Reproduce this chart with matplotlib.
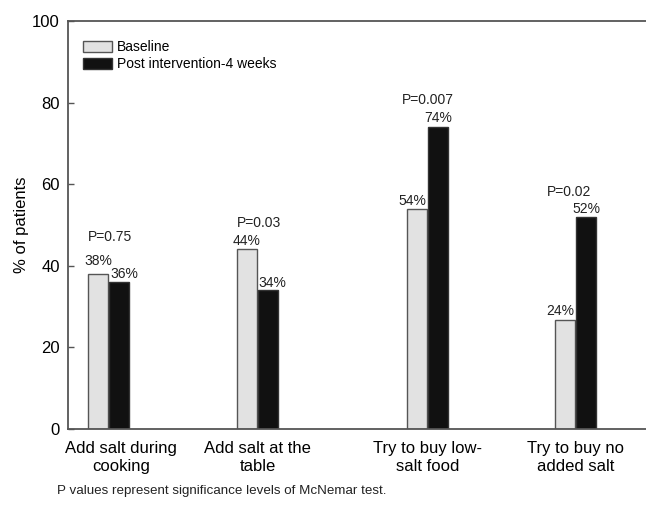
import numpy as np
import matplotlib.pyplot as plt

plt.rcParams['font.family'] = ['Liberation Sans', 'DejaVu Sans']

# datos
categorias = ["Add salt during\ncooking", "Add salt at the\ntable",
              "Try to buy low-\nsalt food", "Try to buy no\nadded salt"]
baseline = [38.0, 44.1, 54.0, 26.7]
post = [36.1, 34.1, 73.9, 52.0]
etiq_base = ["38%", "44%", "54%", "24%"]
etiq_post = ["36%", "34%", "74%", "52%"]
p_valores = ["P=0.75", "P=0.03", "P=0.007", "P=0.02"]

# posiciones de los grupos (espaciado del original, no es uniforme)
x = np.array([0.0, 1.0, 2.141, 3.134])
ancho = 0.134
sep = 0.0705

fig = plt.figure(figsize=(6.46, 5.05), dpi=100)
ax = fig.add_axes([68 / 646, 1 - 429 / 505, 1 - 68 / 646, (429 - 21) / 505])

b1 = ax.bar(x - sep, baseline, ancho, color="#e2e2e2", edgecolor="#555555", linewidth=1.0,
            label="Baseline")
b2 = ax.bar(x + sep, post, ancho, color="#111111", edgecolor="#333333", linewidth=1.0,
            label="Post intervention-4 weeks")

# etiquetas de porcentaje (desplazamientos en pixeles)
dx_base = [0, 0, -5, -5]
dy_base = [13, 8, 8, 9]
dx_post = [5, 4, 0, 0]
dy_post = [8, 7, 9, 8]
for i in range(4):
    ax.annotate(etiq_base[i], (x[i] - sep, baseline[i]), xytext=(dx_base[i], dy_base[i]),
                textcoords="offset pixels", ha="center", va="center", fontsize=10, color="#222222")
    ax.annotate(etiq_post[i], (x[i] + sep, post[i]), xytext=(dx_post[i], dy_post[i]),
                textcoords="offset pixels", ha="center", va="center", fontsize=10, color="#222222")

# valores P
p_y = [47.0, 50.6, 80.6, 58.0]
p_dx = [1, 1, 0, -6]
for i in range(4):
    ax.annotate(p_valores[i], (x[i], p_y[i]), xytext=(p_dx[i], 0), textcoords="offset pixels",
                ha="center", va="center", fontsize=10, color="#222222")

ax.set_xlim(-0.272, 3.607)
ax.set_ylim(0, 100)
ax.set_yticks([0, 20, 40, 60, 80, 100])
ax.tick_params(axis="y", direction="in", length=4, width=1, color="#555555",
               labelsize=12, pad=6)

pos_etiq = x.copy()
pos_etiq[0] += 0.085
ax.set_xticks(pos_etiq)
ax.set_xticklabels(categorias, fontsize=12, linespacing=1.3)
ax.tick_params(axis="x", length=0, pad=8.5)

for s in ["left", "bottom", "top"]:
    ax.spines[s].set_color("#555555")
    ax.spines[s].set_linewidth(1.3)
ax.spines["right"].set_visible(False)

ax.set_ylabel("% of patients", fontsize=12, labelpad=2)

ax.legend(loc="upper left", bbox_to_anchor=(83 / 646, 1 - 40 / 505),
          bbox_transform=fig.transFigure, frameon=False, fontsize=10,
          handlelength=2.1, handleheight=0.85, handletextpad=0.35,
          labelspacing=0.25, borderpad=0, borderaxespad=0)

fig.text(57 / 646, 1 - 491 / 505, "P values represent significance levels of McNemar test.",
         fontsize=9.6, va="center", ha="left", color="#222222")

fig.savefig("out.png", dpi=100)
